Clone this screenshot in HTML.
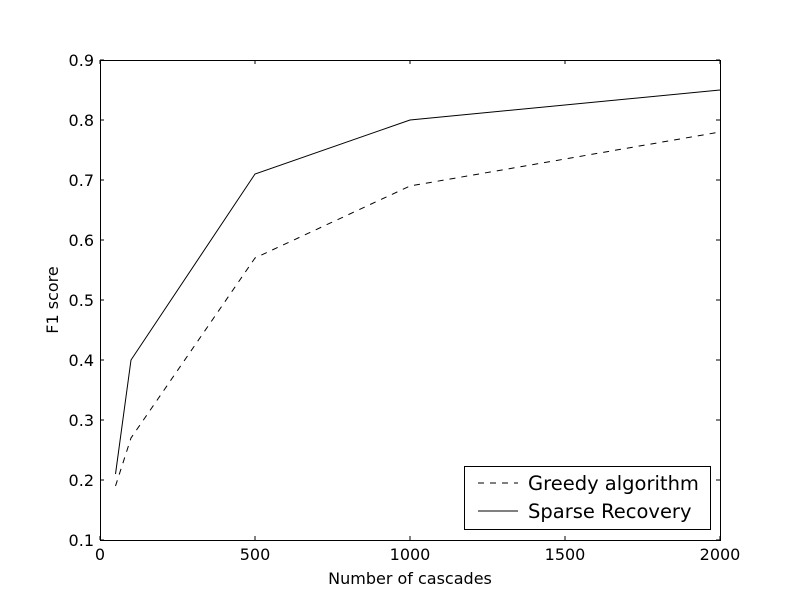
<!DOCTYPE html>
<html><head><style>body{margin:0;background:#fff}</style></head><body>
<svg width="800" height="600" xmlns="http://www.w3.org/2000/svg" font-family="DejaVu Sans, Liberation Sans, sans-serif">
<rect width="800" height="600" fill="#fff"/>
<g stroke="#000" stroke-width="1" fill="none">
<polyline points="115.5,486 131,438 255,258 410,186 720,132" stroke-dasharray="6,6"/>
<polyline points="115.5,474 131,360 255,174 410,120 720,90"/>
<rect x="100.5" y="60.5" width="620" height="480"/>
<path d="M100,540v-4M100,60v4M255,540v-4M255,60v4M410,540v-4M410,60v4M565,540v-4M565,60v4M720,540v-4M720,60v4"/>
<path d="M100,540h4M720,540h-4M100,480h4M720,480h-4M100,420h4M720,420h-4M100,360h4M720,360h-4M100,300h4M720,300h-4M100,240h4M720,240h-4M100,180h4M720,180h-4M100,120h4M720,120h-4M100,60h4M720,60h-4"/>
<rect x="464.5" y="466.5" width="246" height="63"/>
<path d="M478,483h40" stroke-dasharray="6,6"/>
<path d="M478,511h40"/>
</g>
<g font-size="16" fill="#000">
<g text-anchor="middle">
<text x="100" y="560">0</text><text x="255" y="560">500</text><text x="410" y="560">1000</text><text x="565" y="560">1500</text><text x="720" y="560">2000</text>
<text x="410" y="584">Number of cascades</text>
</g>
<g text-anchor="end">
<text x="94" y="546">0.1</text><text x="94" y="486">0.2</text><text x="94" y="426">0.3</text><text x="94" y="366">0.4</text><text x="94" y="306">0.5</text><text x="94" y="246">0.6</text><text x="94" y="186">0.7</text><text x="94" y="126">0.8</text><text x="94" y="66">0.9</text>
</g>
<text transform="translate(58,300) rotate(-90)" text-anchor="middle">F1 score</text>
<text x="528" y="490" font-size="19.5">Greedy algorithm</text>
<text x="528" y="518" font-size="19.5">Sparse Recovery</text>
</g>
</svg>
</body></html>
